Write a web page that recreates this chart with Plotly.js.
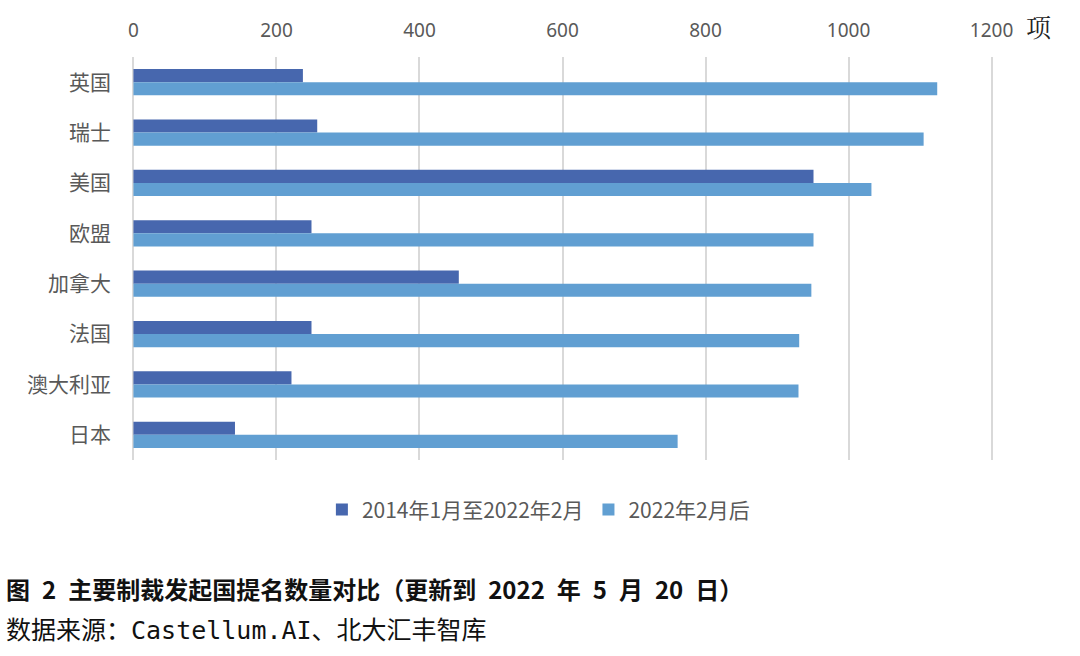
<!DOCTYPE html>
<html><head><meta charset="utf-8">
<script src="https://cdn.plot.ly/plotly-3.0.1.min.js"></script>
<style>body{margin:0;background:#fff}#c{width:1080px;height:656px}</style>
</head><body><div id="c"></div>
<script>
const categories = ["英国","瑞士","美国","欧盟","加拿大","法国","澳大利亚","日本"];
const seriesNames = ["2014年1月至2022年2月","2022年2月后"];
const before2022 = [237, 257, 951, 249, 455, 249, 221, 142];
const after2022 = [1124, 1105, 1032, 951, 948, 931, 930, 761];
const xTicks = [0,200,400,600,800,1000,1200];

const font = "'Noto Sans CJK SC', 'Noto Sans', sans-serif";
const traces = [
  {type:'bar', orientation:'h', name:seriesNames[0], y:categories, x:before2022,
   marker:{color:'#4767AE'}},
  {type:'bar', orientation:'h', name:seriesNames[1], y:categories, x:after2022,
   marker:{color:'#619FD2'}}
];
const layout = {
  width:1080, height:656,
  margin:{l:132, r:87, t:57, b:196},
  paper_bgcolor:'#fff', plot_bgcolor:'#fff',
  barmode:'group', bargap:0.48, bargroupgap:0,
  font:{family:font, color:'#595959', size:16},
  xaxis:{side:'top', range:[-2,1202], tickvals:xTicks, ticktext:xTicks.map(String),
    showgrid:true, gridcolor:'#d9d9d9', gridwidth:2, zeroline:false, showline:false,
    ticks:'', ticklabelstandoff:15, tickfont:{size:19, color:'#595959', family:"'Noto Sans', sans-serif"}, fixedrange:true},
  yaxis:{autorange:'reversed', showgrid:false, zeroline:false, showline:false,
    ticks:'', ticklen:0, ticklabelstandoff:20, tickfont:{size:21, color:'#595959'}, automargin:false},
  showlegend:true,
  legend:{orientation:'h', x:0.472, xanchor:'center', y:-0.124, yanchor:'middle',
    font:{size:21, color:'#595959'}, itemwidth:30, tracegroupgap:0},
  annotations:[
    {text:'项', xref:'paper', yref:'paper', x:1.036, y:1.0, yanchor:'middle', xanchor:'left',
     yshift:31, showarrow:false, font:{size:25, color:'#222', family:"'Noto Serif CJK SC','Noto Sans CJK SC', serif"}},
    {text:'<b>图\u20022\u2002主要制裁发起国提名数量对比（更新到\u20022022\u2002年\u20025\u2002月\u200220\u2002日）</b>', xref:'paper', yref:'paper',
     x:-0.149, xanchor:'left', y:-0.318, yanchor:'middle', showarrow:false,
     font:{size:24, color:'#111', family:font}},
    {text:'数据来源：Castellum.AI、北大汇丰智库', xref:'paper', yref:'paper',
     x:-0.149, xanchor:'left', y:-0.422, yanchor:'middle', showarrow:false,
     font:{size:25, color:'#111', family:"'DejaVu Sans Mono','Noto Sans CJK SC', monospace"}}
  ]
};
Plotly.newPlot('c', traces, layout, {displayModeBar:false, staticPlot:true});
</script></body></html>
